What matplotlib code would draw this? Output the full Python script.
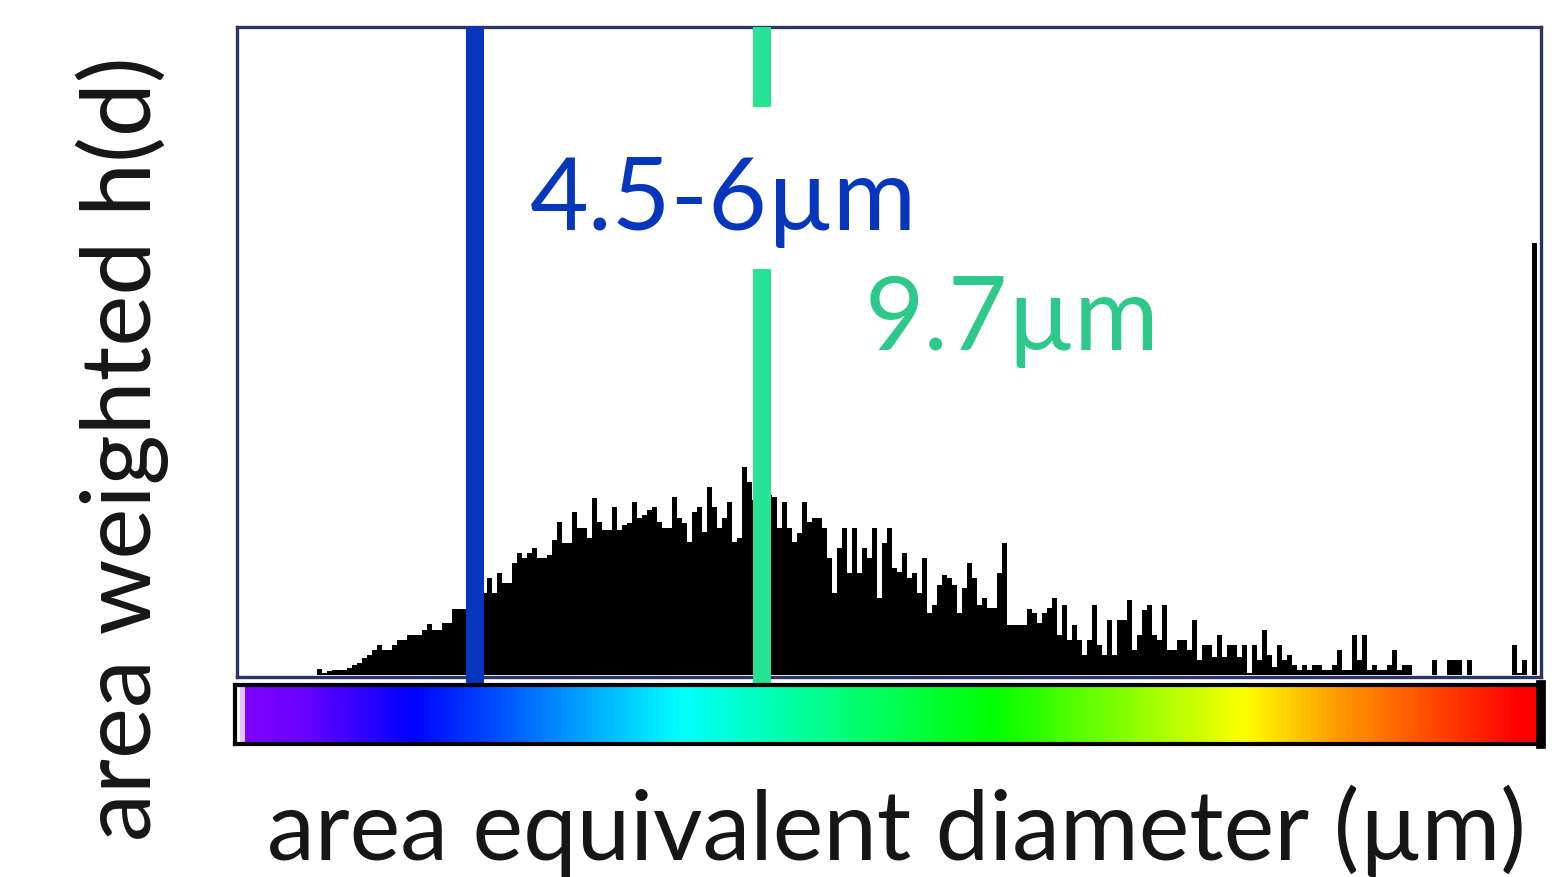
"""Area-weighted size histogram h(d) with the colour scale along the diameter axis."""
import numpy as np
import matplotlib.pyplot as plt
from matplotlib.colors import LinearSegmentedColormap

plt.rcParams['font.family'] = ['Lato', 'DejaVu Sans']

# diameter bins (µm): the left edge and the bin width
BIN_START = 0.19
BIN_WIDTH = 0.0906
X_MAX = 23.82

# area weighted counts per bin (arbitrary units)
hd = [
    0, 0, 0, 0, 0, 0, 0, 0, 0, 0, 0, 0, 0, 0, 0, 0,
    6, 2, 4, 5, 5, 5, 7, 10, 12, 17, 20, 25, 30, 25,
    25, 30, 35, 35, 40, 40, 40, 45, 51, 45, 45, 52, 52, 66, 66, 66,
    70, 75, 80, 82, 97, 82, 102, 92, 92, 112, 122, 117, 122, 127,
    117, 117, 120, 135, 153, 132, 132, 163, 147, 147, 137, 177, 153, 145,
    145, 168, 145, 150, 152, 173, 157, 160, 165, 168, 153, 147, 147, 178,
    157, 152, 133, 163, 168, 143, 188, 168, 147, 157, 173, 133, 137, 208,
    193, 175, 185, 170, 180, 178, 147, 173, 147, 133, 142, 173, 153, 157,
    157, 147, 117, 82, 127, 147, 102, 147, 102, 127, 117, 147, 77, 132,
    147, 107, 103, 122, 97, 102, 82, 117, 62, 70, 90, 100, 97, 90, 62, 87,
    112, 97, 70, 77, 67, 67, 102, 132, 50, 50, 50, 50, 66, 62, 52, 62, 67,
    77, 40, 70, 35, 50, 35, 20, 35, 70, 30, 20, 55, 20, 55, 55, 75, 25, 40,
    65, 70, 40, 35, 70, 25, 25, 35, 35, 25, 55, 15, 30, 30, 18, 40, 18, 30,
    30, 18, 30, 2, 30, 15, 45, 20, 8, 30, 15, 20, 10, 5, 10, 5, 10, 10, 5,
    5, 10, 25, 5, 5, 40, 15, 40, 5, 10, 5, 5, 10, 25, 5, 10, 10, 0, 0, 0, 0,
    15, 0, 0, 15, 15, 15, 0, 15, 0, 0, 0, 0, 0, 0, 0, 0, 30, 2, 15, 0, 432, 0,
]

# marked diameters (µm)
d_small = 4.5
d_peak = 9.7

# colour scale along the diameter axis: (position, colour)
scale_stops = [
    (0.000, '#ffffff'), (0.003, '#ffffff'), (0.007, '#8000ff'),
    (0.050, '#6a00ff'), (0.134, '#0000ff'), (0.200, '#0050ff'),
    (0.340, '#00ffff'), (0.580, '#00ff00'), (0.775, '#ffff00'),
    (0.846, '#ff9900'), (0.985, '#ff0000'), (1.000, '#ff0000'),
]

BLUE = '#0636bb'
GREEN = '#27e393'
GREEN_TXT = '#2ec98a'
FRAME = '#2b3566'
INK = '#161616'

edges = BIN_START + BIN_WIDTH * np.arange(len(hd) + 1)

fig = plt.figure(figsize=(15.68, 8.78), dpi=100)
ax = fig.add_axes([0.1511, 0.2278, 0.8316, 0.7403])
ax.stairs(hd, edges, fill=True, color='black', lw=0)
ax.set_xlim(BIN_START, X_MAX)
ax.set_ylim(-2, 648)
ax.set_xticks([])
ax.set_yticks([])
for sp in ax.spines.values():
    sp.set_color(FRAME)
    sp.set_linewidth(2.4)

# marker lines run down to the colour scale
ax.plot([d_small, d_small], [-10, 648], color=BLUE, lw=13,
        solid_capstyle='butt', clip_on=False, zorder=5)
ax.plot([d_peak, d_peak], [-10, 406], color=GREEN, lw=13,
        solid_capstyle='butt', clip_on=False, zorder=5)
ax.plot([d_peak, d_peak], [568, 648], color=GREEN, lw=13,
        solid_capstyle='butt', clip_on=False, zorder=5)

ax.text(5.50, 446, f'{d_small:g}-6µm', color=BLUE, fontsize=73,
        ha='left', va='baseline', zorder=6)
ax.text(11.57, 326, f'{d_peak:g}µm', color=GREEN_TXT, fontsize=74,
        ha='left', va='baseline', zorder=6)

# colour scale strip
cax = fig.add_axes([0.1499, 0.1515, 0.8329, 0.0672])
cmap = LinearSegmentedColormap.from_list('diam', scale_stops)
cax.imshow(np.linspace(0, 1, 1024)[None, :], aspect='auto', cmap=cmap,
           extent=[0, 1, 0, 1], interpolation='nearest')
cax.set_xticks([])
cax.set_yticks([])
for side, sp in cax.spines.items():
    sp.set_color('black')
    sp.set_linewidth(3)
cax.spines['right'].set_linewidth(7)

fig.text(0.078, 0.489, 'area weighted h(d)', rotation=90, color=INK,
         fontsize=69.5, ha='center', va='center')
fig.text(0.572, 0.0205, 'area equivalent diameter (µm)', color=INK,
         fontsize=69, ha='center', va='baseline')

fig.savefig('out.png', dpi=100)
